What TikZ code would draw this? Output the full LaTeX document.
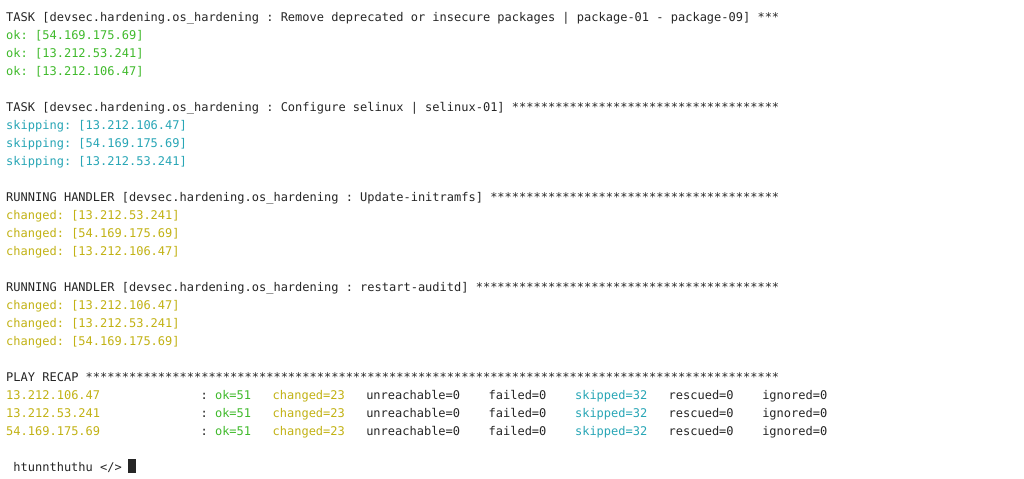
\documentclass[tikz,border=0pt]{standalone}
\usepackage{fontspec}
\setmonofont{DejaVu Sans Mono}
\usepackage{tikz}
\definecolor{termok}{RGB}{64,186,44}
\definecolor{termchanged}{RGB}{194,178,20}
\definecolor{termskip}{RGB}{40,166,182}
\definecolor{termtext}{RGB}{38,38,38}
\newcommand{\starrun}[1]{\foreach \k in {1,...,#1}{*}}
\frenchspacing

\begin{document}
\begin{tikzpicture}[x=5.4pt,y=-13.5pt,
    txt/.style={anchor=base west,inner sep=0pt,text=termtext},
    okline/.style={txt,text=termok},
    skipline/.style={txt,text=termskip},
    chline/.style={txt,text=termchanged}]
    \fill[white] (-0.83,-1.19) rectangle (141.39,25.42);
    \begin{scope}[font=\ttfamily\fontsize{9}{13.5}\selectfont]

    % task: packages
    \node[txt] (task1) at (0,0) {TASK [devsec.hardening.os\_hardening : Remove deprecated or insecure packages | package-01 - package-09] \starrun{3}};
    \foreach \ip [count=\r] in {54.169.175.69,13.212.53.241,13.212.106.47}{%
        \node[okline] (ok\r) at (0,\r) {ok: [\ip]};}

    % task: selinux
    \node[txt] (task2) at (0,5) {TASK [devsec.hardening.os\_hardening : Configure selinux | selinux-01] \starrun{37}};
    \foreach \ip [count=\r from 6] in {13.212.106.47,54.169.175.69,13.212.53.241}{%
        \node[skipline] (skip\r) at (0,\r) {skipping: [\ip]};}

    % handlers
    \node[txt] (handler1) at (0,10) {RUNNING HANDLER [devsec.hardening.os\_hardening : Update-initramfs] \starrun{40}};
    \foreach \ip [count=\r from 11] in {13.212.53.241,54.169.175.69,13.212.106.47}{%
        \node[chline] (changed\r) at (0,\r) {changed: [\ip]};}

    \node[txt] (handler2) at (0,15) {RUNNING HANDLER [devsec.hardening.os\_hardening : restart-auditd] \starrun{42}};
    \foreach \ip [count=\r from 16] in {13.212.106.47,13.212.53.241,54.169.175.69}{%
        \node[chline] (changed\r) at (0,\r) {changed: [\ip]};}

    % recap
    \node[txt] (recap) at (0,20) {PLAY RECAP \starrun{96}};
    \foreach \ip [count=\r from 21] in {13.212.106.47,13.212.53.241,54.169.175.69}{%
        \node[chline] (host\r) at (0,\r) {\ip};
        \node[txt] (colon\r) at (27,\r) {:};
        \node[okline] (okc\r) at (29,\r) {ok=51};
        \node[chline] (chc\r) at (37,\r) {changed=23};
        \node[txt] (unr\r) at (50,\r) {unreachable=0};
        \node[txt] (fail\r) at (67,\r) {failed=0};
        \node[skipline] (skc\r) at (79,\r) {skipped=32};
        \node[txt] (resc\r) at (92,\r) {rescued=0};
        \node[txt] (ign\r) at (105,\r) {ignored=0};}

    % prompt
    \node[txt] (prompt) at (1,25) {htunnthuthu </>};
    \fill[termtext] (17,24.3) rectangle (18,25.08);
    \end{scope}
\end{tikzpicture}
\end{document}
